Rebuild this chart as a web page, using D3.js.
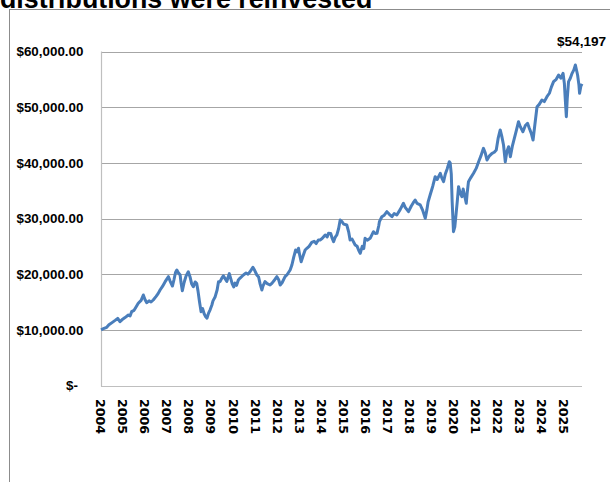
<!DOCTYPE html>
<html>
<head>
<meta charset="utf-8">
<script src="https://d3js.org/d3.v7.min.js"></script>
<style>
body { margin: 0; background: #fff; }
svg { display: block; }
</style>
</head>
<body>
<svg id="chart"></svg>
<script>
var title = "distributions were reinvested";
var lastLabel = "$54,197";
var yTicks = [0, 10000, 20000, 30000, 40000, 50000, 60000];
var xLabels = [2004, 2005, 2006, 2007, 2008, 2009, 2010, 2011, 2012, 2013, 2014,
  2015, 2016, 2017, 2018, 2019, 2020, 2021, 2022, 2023, 2024, 2025];

// growth of $10,000 (decimal years)
var years = [2004.00, 2004.11, 2004.26, 2004.36, 2004.50, 2004.64, 2004.76, 2004.86, 2004.95, 2005.09,
  2005.24, 2005.32, 2005.39, 2005.50, 2005.59, 2005.69, 2005.82, 2005.92, 2006.00, 2006.07,
  2006.18, 2006.27, 2006.37, 2006.50, 2006.59, 2006.68, 2006.79, 2006.91, 2007.00, 2007.06,
  2007.13, 2007.24, 2007.31, 2007.38, 2007.44, 2007.50, 2007.59, 2007.63, 2007.69, 2007.77,
  2007.86, 2007.96, 2008.04, 2008.11, 2008.19, 2008.27, 2008.34, 2008.40, 2008.47, 2008.54,
  2008.61, 2008.68, 2008.75, 2008.81, 2008.88, 2008.95, 2009.03, 2009.08, 2009.18, 2009.27,
  2009.33, 2009.40, 2009.47, 2009.55, 2009.63, 2009.71, 2009.77, 2009.82, 2009.88, 2009.95,
  2010.02, 2010.08, 2010.15, 2010.23, 2010.31, 2010.46, 2010.58, 2010.67, 2010.76, 2010.89,
  2010.97, 2011.07, 2011.15, 2011.22, 2011.30, 2011.35, 2011.44, 2011.54, 2011.67, 2011.76,
  2011.88, 2011.98, 2012.06, 2012.13, 2012.22, 2012.35, 2012.44, 2012.58, 2012.66, 2012.74,
  2012.83, 2012.90, 2012.96, 2013.01, 2013.08, 2013.17, 2013.26, 2013.34, 2013.44, 2013.56,
  2013.67, 2013.76, 2013.86, 2013.94, 2014.03, 2014.17, 2014.26, 2014.32, 2014.42, 2014.49,
  2014.55, 2014.62, 2014.70, 2014.78, 2014.85, 2014.93, 2015.01, 2015.15, 2015.24, 2015.30,
  2015.39, 2015.53, 2015.62, 2015.69, 2015.76, 2015.85, 2015.92, 2015.98, 2016.08, 2016.21,
  2016.36, 2016.44, 2016.52, 2016.60, 2016.63, 2016.74, 2016.85, 2016.97, 2017.07, 2017.20,
  2017.30, 2017.42, 2017.57, 2017.72, 2017.80, 2017.95, 2018.07, 2018.16, 2018.25, 2018.34,
  2018.48, 2018.59, 2018.71, 2018.78, 2018.84, 2018.93, 2019.05, 2019.16, 2019.25, 2019.39,
  2019.46, 2019.54, 2019.62, 2019.71, 2019.80, 2019.84, 2019.89, 2019.93, 2019.99, 2020.05,
  2020.11, 2020.16, 2020.22, 2020.30, 2020.37, 2020.43, 2020.50, 2020.57, 2020.61, 2020.67,
  2020.77, 2020.90, 2021.02, 2021.13, 2021.23, 2021.35, 2021.43, 2021.51, 2021.61, 2021.74,
  2021.84, 2021.93, 2022.02, 2022.11, 2022.18, 2022.26, 2022.34, 2022.41, 2022.49, 2022.57,
  2022.66, 2022.75, 2022.84, 2022.94, 2023.02, 2023.14, 2023.25, 2023.35, 2023.43, 2023.52,
  2023.60, 2023.68, 2023.78, 2023.88, 2024.00, 2024.11, 2024.23, 2024.34, 2024.43, 2024.53,
  2024.65, 2024.76, 2024.86, 2024.96, 2025.02, 2025.06, 2025.11, 2025.15, 2025.21, 2025.29,
  2025.37, 2025.45, 2025.52, 2025.58, 2025.62, 2025.68, 2025.71, 2025.77, 2025.82];

var values = [10000, 10200, 10455, 10900, 11300, 11700, 12070, 11460, 11800, 12200,
  12660, 12500, 13260, 13500, 14100, 14770, 15300, 16260, 15400, 14880,
  15200, 15000, 15360, 16000, 16500, 17160, 17800, 18650, 19200, 19550,
  18800, 17870, 19000, 20300, 20750, 20300, 19850, 18500, 17030, 18500,
  19700, 20440, 19500, 18300, 17750, 18600, 18360, 17000, 15000, 13260,
  13800, 12900, 12360, 12100, 13000, 13600, 14460, 15200, 15950, 17200,
  18650, 18650, 19200, 19700, 19200, 18700, 19500, 20100, 19300, 18300,
  17700, 18400, 18000, 18950, 19300, 19850, 20200, 20000, 20440, 21230,
  20700, 19850, 19500, 18200, 17160, 17900, 18650, 18300, 18050, 18400,
  19000, 19550, 19000, 18050, 18500, 19550, 19900, 20750, 21650, 23000,
  24340, 24000, 24650, 23500, 22240, 23300, 24340, 24650, 25000, 25700,
  25900, 25500, 26140, 26140, 26400, 27040, 26700, 27340, 27300, 26400,
  25830, 26600, 27040, 28200, 29730, 29430, 29000, 28830, 27500, 26140,
  26300, 25240, 25000, 24300, 23750, 25000, 24600, 26440, 26100, 26440,
  27630, 27300, 27340, 28700, 29430, 30320, 30600, 31220, 30800, 30320,
  30900, 30630, 31600, 32730, 32000, 31220, 32200, 32800, 33320, 32700,
  32430, 31500, 30040, 31500, 33000, 34220, 35800, 37510, 37000, 38120,
  37300, 36610, 38000, 39000, 40200, 40000, 38000, 33000, 27630, 28500,
  30930, 33000, 35710, 34500, 33920, 35300, 34000, 32730, 34500, 36610,
  37300, 38120, 39000, 40200, 41200, 42610, 41800, 40510, 41200, 41710,
  41900, 42310, 44500, 45900, 44800, 43200, 40200, 42000, 42900, 41100,
  43000, 44400, 45800, 47390, 46500, 45590, 46700, 47100, 46200, 45300,
  44100, 46800, 50080, 50500, 51290, 51000, 51880, 52500, 53600, 54580,
  55000, 55780, 55200, 56080, 54280, 51500, 48290, 51500, 54580, 55200,
  56080, 56700, 57570, 56500, 55780, 54000, 52490, 53800, 54197];

var svgWidth = 610, svgHeight = 482;
var plotLeft = 101, plotRight = 582, plotTop = 51.5, plotBottom = 385.5;

var svg = d3.select("#chart")
  .attr("width", svgWidth)
  .attr("height", svgHeight)
  .style("background", "#fff");

var x = d3.scaleLinear().domain([2004, 2025.82]).range([plotLeft, plotRight]);
var y = d3.scaleLinear().domain([0, 60000]).range([plotBottom, plotTop]);

// title, cut off by the top edge
svg.append("text")
  .attr("x", 0)
  .attr("y", 7.5)
  .attr("font-family", "Liberation Sans, Arial, sans-serif")
  .attr("font-weight", "bold")
  .attr("font-size", 26.8)
  .attr("fill", "#000")
  .text(title);

// chart area border
svg.append("rect")
  .attr("x", 9.5)
  .attr("y", 9.5)
  .attr("width", 700)
  .attr("height", 600)
  .attr("fill", "none")
  .attr("stroke", "#8c8c8c");

// gridlines
svg.append("g")
  .selectAll("line")
  .data(yTicks)
  .enter()
  .append("line")
  .attr("x1", plotLeft)
  .attr("x2", plotRight)
  .attr("y1", function(d) { return Math.round(y(d)) + 0.5; })
  .attr("y2", function(d) { return Math.round(y(d)) + 0.5; })
  .attr("stroke", function(d) { return d == 0 ? "#bfbfbf" : "#a6a6a6"; })
  .attr("stroke-width", 1.2);

svg.append("line")
  .attr("x1", plotLeft + 0.5)
  .attr("x2", plotLeft + 0.5)
  .attr("y1", plotTop)
  .attr("y2", plotBottom + 1)
  .attr("stroke", "#bfbfbf")
  .attr("stroke-width", 1.2);

// y labels
var fmt = d3.format(",.2f");
svg.append("g")
  .selectAll("text")
  .data(yTicks)
  .enter()
  .append("text")
  .attr("x", function(d) { return d == 0 ? 78 : 83.5; })
  .attr("y", function(d) { return y(d); })
  .attr("dy", "0.35em")
  .attr("text-anchor", "end")
  .attr("font-family", "Liberation Sans, Arial, sans-serif")
  .attr("font-weight", "bold")
  .attr("font-size", 13.4)
  .attr("fill", "#000")
  .text(function(d) { return d == 0 ? "$-" : "$" + fmt(d); });

// x labels, rotated
svg.append("g")
  .selectAll("text")
  .data(xLabels)
  .enter()
  .append("text")
  .attr("transform", function(d) { return "translate(" + (x(d) - 0.3) + ",399) rotate(90)"; })
  .attr("dy", "0.35em")
  .attr("font-family", "DejaVu Sans, sans-serif")
  .attr("font-weight", "bold")
  .attr("font-size", 12.6)
  .attr("fill", "#000")
  .text(function(d) { return d; });

// the series
var line = d3.line()
  .x(function(d) { return x(d[0]); })
  .y(function(d) { return y(d[1]); });

svg.append("path")
  .datum(d3.zip(years, values))
  .attr("d", line)
  .attr("fill", "none")
  .attr("stroke", "#4a7ebb")
  .attr("stroke-width", 3)
  .attr("stroke-linejoin", "round");

svg.append("text")
  .attr("x", 557)
  .attr("y", 45.5)
  .attr("font-family", "Liberation Sans, Arial, sans-serif")
  .attr("font-weight", "bold")
  .attr("font-size", 13.6)
  .attr("fill", "#000")
  .text(lastLabel);
</script>
</body>
</html>
